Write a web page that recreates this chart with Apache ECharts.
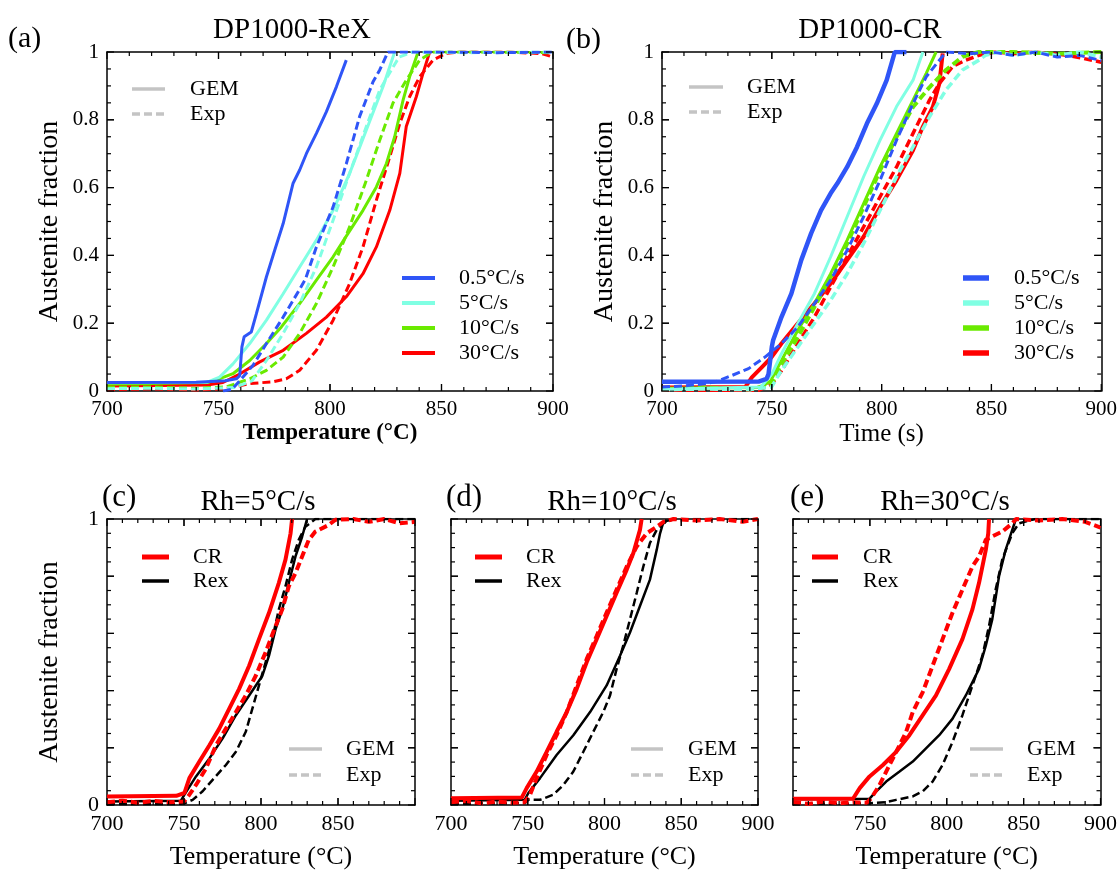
<!DOCTYPE html>
<html><head><meta charset="utf-8">
<script src="https://cdn.jsdelivr.net/npm/echarts/dist/echarts.min.js"></script>
<style>html,body{margin:0;padding:0;background:#fff}#c{width:1120px;height:871px}</style>
</head><body><div id="c"></div><script>
// ---------- ticks & tick labels ----------
const xTicks = [700, 750, 800, 850, 900];
const xTickMarks = [710, 720, 730, 740, 750, 760, 770, 780, 790, 800, 810, 820, 830, 840, 850, 860, 870, 880, 890];
const xLabelsFull = ['700', '750', '800', '850', '900'];
const xLabelsC = ['700', '750', '800', '850', ''];
const xLabelsE = ['', '750', '800', '850', '900'];
const yTicks = [0, 0.2, 0.4, 0.6, 0.8, 1];
const yTickMarks = [0.05, 0.1, 0.15, 0.2, 0.25, 0.3, 0.35, 0.4, 0.45, 0.5, 0.55, 0.6, 0.65, 0.7, 0.75, 0.8, 0.85, 0.9, 0.95];
const yLabelsTop = ['0', '0.2', '0.4', '0.6', '0.8', '1'];
const yLabelsC = ['0', '', '', '', '', '1'];
const yLabelsNone = ['', '', '', '', '', ''];

// ---------- panel (a) DP1000-ReX ----------
const aBlueGem = [[700,0.025],[740,0.026],[753,0.03],[758,0.036],[759.5,0.045],[760.5,0.13],[761.5,0.16],[764.7,0.174],[767,0.228],[771.5,0.337],[775.2,0.415],[779,0.494],[783.4,0.612],[786.4,0.652],[789.4,0.70],[793.9,0.76],[798.4,0.824],[802.9,0.898],[807.3,0.976]];
const aBlueExp = [[752,0.0],[756,0.005],[759.5,0.03],[765.5,0.076],[771.5,0.14],[779,0.218],[786.4,0.30],[789,0.33],[793.9,0.425],[801.4,0.543],[807.3,0.67],[813.3,0.81],[819.3,0.912],[822.3,0.947],[826,1],[850,1],[875,0.998],[900,1]];
const aCyanGem = [[700,0.024],[745,0.026],[750.5,0.041],[756.5,0.08],[764,0.14],[771.5,0.209],[779,0.287],[786.4,0.366],[793.9,0.445],[801.4,0.533],[808.8,0.642],[816.3,0.77],[823.8,0.898],[829,1]];
const aCyanExp = [[700,0.007],[720,0.008],[740,0.006],[757,0.01],[765,0.03],[771.5,0.09],[779,0.17],[786.4,0.258],[793.9,0.366],[801.4,0.504],[808.8,0.642],[816.3,0.78],[822.3,0.888],[828.3,0.956],[831,0.985],[837,1],[860,0.998],[900,1]];
const aGreenGem = [[700,0.02],[745,0.025],[750,0.035],[756.5,0.051],[764,0.09],[771.5,0.14],[778.2,0.189],[786.4,0.258],[793.9,0.327],[801.4,0.396],[808.1,0.465],[814.8,0.533],[820.8,0.602],[825.3,0.671],[829,0.75],[832.8,0.859],[835.7,0.927],[839.5,1]];
const aGreenExp = [[700,0.01],[720,0.012],[740,0.008],[753.5,0.012],[764,0.036],[771.5,0.061],[779,0.10],[786.4,0.17],[793.9,0.258],[801.4,0.366],[808.8,0.484],[816.3,0.622],[822.3,0.74],[828.3,0.85],[834.2,0.917],[840.2,0.976],[846,1],[870,1],[900,0.998]];
const aRedGem = [[700,0.015],[745,0.018],[752,0.025],[759.5,0.05],[768.5,0.086],[779,0.12],[789.4,0.17],[798.4,0.218],[807.3,0.278],[814.8,0.346],[820.8,0.425],[826.8,0.533],[831.3,0.642],[834.2,0.78],[838.7,0.868],[841.7,0.937],[844.7,1]];
const aRedExp = [[700,0.004],[720,0.006],[740,0.003],[753.5,0.007],[764,0.022],[774.5,0.027],[780.4,0.036],[786.4,0.061],[793.9,0.12],[801.4,0.209],[808.8,0.317],[814.8,0.425],[820.8,0.563],[826.8,0.691],[831.3,0.789],[835.7,0.868],[840.2,0.927],[846.2,0.976],[852,0.996],[858,1],[880,1],[895,0.995],[900,0.985]];

// ---------- panel (b) DP1000-CR ----------
const bBlueGem = [[700,0.027],[744,0.028],[747.6,0.036],[748.5,0.05],[750,0.13],[750.6,0.15],[754.4,0.218],[758.9,0.287],[763.4,0.386],[767.9,0.465],[772.4,0.533],[776.8,0.583],[779.8,0.612],[784.3,0.661],[788.8,0.72],[793.3,0.789],[797.8,0.848],[802.3,0.917],[806,1],[811.3,1]];
const bBlueExp = [[700,0.012],[710,0.015],[720,0.022],[724.4,0.027],[731.9,0.046],[739.4,0.066],[746.9,0.10],[754.4,0.14],[761.9,0.189],[769.4,0.258],[776.8,0.327],[784.3,0.415],[791.8,0.514],[799.3,0.622],[806.8,0.74],[814.3,0.848],[820.3,0.927],[826.3,0.976],[829.3,1],[840,0.995],[850,1],[860,0.99],[870,1],[880,0.985],[890,0.99],[900,0.975]];
const bCyanGem = [[700,0.005],[745,0.012],[750,0.05],[754.4,0.11],[761.9,0.2],[769.4,0.287],[776.8,0.396],[784.3,0.514],[791.8,0.632],[799.3,0.74],[806.8,0.839],[814.3,0.917],[818.8,1]];
const bCyanExp = [[700,0.004],[720,0.006],[740,0.004],[749.9,0.012],[754.4,0.061],[761.9,0.13],[769.4,0.2],[776.8,0.268],[784.3,0.346],[791.8,0.435],[799.3,0.533],[806.8,0.632],[814.3,0.72],[821.8,0.809],[829.3,0.888],[836.8,0.947],[844.3,0.976],[847.3,0.99],[853,1],[860,0.99],[870,1],[880,0.99],[890,1],[900,0.985]];
const bGreenGem = [[700,0.008],[745,0.01],[749.5,0.03],[754.4,0.09],[761.9,0.18],[769.4,0.258],[776.8,0.346],[784.3,0.445],[791.8,0.553],[799.3,0.661],[806.8,0.76],[814.3,0.858],[820.3,0.937],[824.8,1]];
const bGreenExp = [[700,0.006],[720,0.01],[740,0.005],[749.9,0.02],[754.4,0.08],[761.9,0.16],[769.4,0.248],[776.8,0.337],[784.3,0.435],[791.8,0.543],[799.3,0.651],[806.8,0.75],[814.3,0.838],[821.8,0.896],[829.3,0.947],[836.8,0.986],[844.3,1],[860,1],[880,0.995],[900,1]];
const bRedGem = [[700,0.01],[738,0.012],[740.9,0.04],[745.4,0.07],[749.9,0.10],[754.4,0.14],[761.9,0.2],[769.4,0.258],[776.8,0.317],[784.3,0.386],[791.8,0.455],[799.3,0.543],[806.8,0.622],[814.3,0.71],[818.8,0.78],[823.3,0.838],[826.3,0.907],[827.8,0.996]];
const bRedExp = [[700,0.003],[720,0.002],[744,0.002],[749.9,0.02],[754.4,0.06],[761.9,0.14],[769.4,0.218],[776.8,0.307],[784.3,0.396],[791.8,0.484],[799.3,0.573],[806.8,0.661],[814.3,0.76],[821.8,0.858],[826.3,0.907],[832.3,0.957],[838.3,0.976],[844.3,0.99],[851.7,1],[860,0.995],[870,1],[885,0.99],[900,0.97]];

// ---------- panel (c) Rh=5 ----------
const cRedGem = [[700,0.03],[745,0.032],[750.3,0.042],[753.5,0.094],[760,0.152],[766.5,0.209],[772.9,0.267],[779.4,0.337],[785.8,0.406],[792.3,0.487],[798.7,0.58],[805.2,0.672],[811.6,0.777],[815.9,0.858],[819.2,0.95],[820.2,1]];
const cRedExp = [[700,0.01],[710,0.015],[720,0.008],[730,0.014],[740,0.01],[750,0.012],[753.5,0.036],[757.8,0.07],[764.3,0.128],[770.8,0.209],[777.2,0.267],[783.7,0.325],[790.1,0.383],[796.6,0.452],[803,0.534],[809.5,0.626],[813.8,0.684],[818.1,0.765],[822.4,0.811],[826.7,0.869],[831,0.927],[835.3,0.956],[843.9,0.979],[848.2,0.997],[860,1],[870,0.99],[880,1],[890,0.985],[900,0.99]];
const cBlackGem = [[700,0.012],[748,0.015],[750.3,0.036],[757.8,0.1],[766.5,0.163],[775.1,0.233],[783.7,0.314],[792.3,0.383],[800.9,0.452],[805.2,0.522],[809.5,0.615],[813.8,0.684],[818.1,0.777],[822.4,0.869],[826.7,0.938],[829.9,1]];
const cBlackExp = [[700,0.003],[748,0.004],[750.3,0.006],[755.6,0.018],[762.1,0.048],[768.6,0.088],[777.2,0.14],[783.7,0.186],[790.1,0.256],[794.4,0.337],[798.7,0.418],[803,0.499],[807.3,0.58],[811.6,0.684],[815.9,0.765],[820.2,0.858],[824.5,0.927],[828.8,0.973],[835.3,1],[900,1]];

// ---------- panel (d) Rh=10 ----------
const dRedGem = [[700,0.024],[746.1,0.026],[749.3,0.059],[755.8,0.117],[762.3,0.186],[768.8,0.256],[775.4,0.325],[781.9,0.406],[788.4,0.499],[794.9,0.58],[801.4,0.661],[807.9,0.742],[814.5,0.823],[818.8,0.881],[823.1,0.962],[824.2,1]];
const dRedExp = [[700,0.01],[710,0.014],[720,0.006],[730,0.012],[740,0.008],[748,0.01],[751.5,0.036],[755.8,0.094],[762.3,0.175],[768.8,0.244],[775.4,0.325],[781.9,0.418],[788.4,0.51],[794.9,0.591],[801.4,0.673],[807.9,0.753],[814.5,0.834],[821,0.904],[827.5,0.95],[834,0.973],[838.4,0.99],[844.9,1],[860,0.995],[875,1],[890,0.99],[900,1]];
const dBlackGem = [[700,0.015],[748,0.018],[750.4,0.042],[758,0.094],[768.8,0.175],[779.7,0.244],[790.6,0.325],[801.4,0.418],[810.1,0.522],[816.6,0.603],[823.1,0.696],[829.6,0.788],[834,0.892],[836.2,0.95],[838.4,0.99],[845,1]];
const dBlackExp = [[700,0.004],[748,0.006],[750.4,0.018],[758,0.018],[766.6,0.036],[773.2,0.07],[779.7,0.117],[786.2,0.186],[792.7,0.256],[799.2,0.325],[803.6,0.383],[807.9,0.476],[812.2,0.557],[816.6,0.649],[821,0.742],[825.3,0.834],[829.6,0.916],[834,0.962],[838.4,0.985],[844.9,1],[900,1]];

// ---------- panel (e) Rh=30 ----------
const eRedGem = [[700,0.022],[739,0.022],[743.4,0.059],[749.8,0.1],[758.5,0.14],[767.1,0.186],[775.7,0.244],[784.4,0.314],[793,0.383],[801.6,0.476],[810.2,0.58],[816.7,0.684],[821,0.777],[825.4,0.892],[827,0.95],[827.5,1]];
const eRedExp = [[700,0.01],[710,0.004],[720,0.012],[730,0.006],[740,0.01],[748,0.008],[750.9,0.024],[756.3,0.07],[762.8,0.14],[769.3,0.209],[773.6,0.256],[777.9,0.325],[784.4,0.395],[790.8,0.487],[797.3,0.58],[803.8,0.673],[810.2,0.753],[816.7,0.834],[821,0.869],[825.4,0.927],[829.6,0.939],[836.1,0.956],[842.6,0.985],[845,1],[860,0.995],[875,1],[890,0.99],[900,0.97]];
const eBlackGem = [[700,0.02],[749.8,0.022],[754.2,0.048],[760.6,0.082],[769.3,0.117],[777.9,0.152],[786.5,0.198],[795.1,0.244],[803.8,0.302],[812.4,0.383],[821,0.476],[825.4,0.557],[829.6,0.649],[834,0.8],[838.3,0.892],[842.6,0.962],[845,1]];
const eBlackExp = [[700,0.004],[748,0.005],[752,0.007],[760.6,0.01],[767.1,0.018],[777.9,0.03],[784.4,0.048],[790.8,0.082],[797.3,0.14],[803.8,0.221],[810.2,0.314],[816.7,0.418],[823.2,0.522],[827.5,0.626],[831.8,0.753],[836.1,0.858],[842.6,0.95],[846.9,0.985],[857.7,1],[900,1]];

// ---------- styling ----------
const FONT = 'Liberation Serif';
const BLUE = '#2f55f7', CYAN = '#80ffe3', GREEN = '#6aea00', RED = '#ff0000', BLACK = '#000000', GRAY = '#c4c4c4';
const DASH = [8, 4];

const grids = [
  {left: 107, top: 52, width: 446, height: 339},
  {left: 662, top: 52, width: 445, height: 339},
  {left: 107, top: 519, width: 308, height: 288},
  {left: 451, top: 519, width: 307, height: 288},
  {left: 793, top: 519, width: 309, height: 288}
];

function pick(labels, ticks, v) {
  let best = 0, bd = Infinity;
  ticks.forEach((t, i) => { const d = Math.abs(t - v); if (d < bd) { bd = d; best = i; } });
  return bd < 1e-6 ? labels[best] : '';
}
function isMajor(ticks, v) { return ticks.some(t => Math.abs(t - v) < 1e-6); }

function axLine() { return {show: true, onZero: false, lineStyle: {color: '#000', width: 1.5}}; }

const xAxes = [], yAxes = [];
function addAxes(g, xl, yl, xName, xNameStyle, xNameGap, yName, labelSize) {
  const xb = {gridIndex: g, type: 'value', position: 'bottom', axisLine: axLine(), axisTick: {show: false}, splitLine: {show: false},
    min: 700, max: 900, interval: 50,
    axisLabel: {color: '#000', fontFamily: FONT, fontSize: labelSize, formatter: v => pick(xl, xTicks, v)},
    name: xName, nameLocation: 'middle', nameGap: xNameGap,
    nameTextStyle: Object.assign({color: '#000', fontFamily: FONT}, xNameStyle)};
  const yl0 = {gridIndex: g, type: 'value', position: 'left', axisLine: axLine(), axisTick: {show: false}, splitLine: {show: false},
    min: 0, max: 1, interval: 0.2,
    axisLabel: {color: '#000', fontFamily: FONT, fontSize: labelSize, formatter: v => pick(yl, yTicks, v)}};
  if (yName) Object.assign(yl0, {name: yName, nameLocation: 'middle', nameGap: 43, nameTextStyle: {color: '#000', fontFamily: FONT, fontSize: 28}});
  xAxes.push(xb); yAxes.push(yl0);
  xAxes.push({gridIndex: g, type: 'value', position: 'top', axisLine: axLine(), axisTick: {show: false}, splitLine: {show: false},
    min: 700, max: 900, interval: 50, axisLabel: {show: false}});
  yAxes.push({gridIndex: g, type: 'value', position: 'right', axisLine: axLine(), axisTick: {show: false}, splitLine: {show: false},
    min: 0, max: 1, interval: 0.2, axisLabel: {show: false}});
}
addAxes(0, xLabelsFull, yLabelsTop, 'Temperature (°C)', {fontSize: 23, fontWeight: 'bold'}, 31, 'Austenite fraction', 21);
addAxes(1, xLabelsFull, yLabelsTop, 'Time (s)', {fontSize: 25}, 31, 'Austenite fraction', 21);
addAxes(2, xLabelsC, yLabelsC, 'Temperature (°C)', {fontSize: 26}, 39, 'Austenite fraction', 22);
addAxes(3, xLabelsFull, yLabelsNone, 'Temperature (°C)', {fontSize: 26}, 39, '', 22);
addAxes(4, xLabelsE, yLabelsNone, 'Temperature (°C)', {fontSize: 26}, 39, '', 22);

const series = [];
function ln(g, data, color, width, dashed) {
  series.push({type: 'line', xAxisIndex: g * 2, yAxisIndex: g * 2, data: data, symbol: 'none', showSymbol: false,
    animation: false,
    lineStyle: {color: color, width: width, type: dashed ? DASH : 'solid'}});
}
// inward tick marks on all four sides, placed through the axis scale
function tickSeries(g) {
  series.push({type: 'custom', xAxisIndex: g * 2, yAxisIndex: g * 2, silent: true, z: 20, clip: false, animation: false,
    data: [[700, 0]],
    renderItem: function (params, api) {
      const bl = api.coord([700, 0]), tr = api.coord([900, 1]);
      const L = bl[0], B = bl[1], R = tr[0], T = tr[1];
      const ch = [];
      const st = () => ({stroke: '#000', lineWidth: 1.2});
      xTicks.concat(xTickMarks).forEach(v => {
        const len = isMajor(xTicks, v) ? 7 : 4;
        const x = api.coord([v, 0])[0];
        ch.push({type: 'line', shape: {x1: x, y1: B, x2: x, y2: B - len}, style: st()});
        ch.push({type: 'line', shape: {x1: x, y1: T, x2: x, y2: T + len}, style: st()});
      });
      yTicks.concat(yTickMarks).forEach(v => {
        const len = isMajor(yTicks, v) ? 7 : 4;
        const y = api.coord([700, v])[1];
        ch.push({type: 'line', shape: {x1: L, y1: y, x2: L + len, y2: y}, style: st()});
        ch.push({type: 'line', shape: {x1: R, y1: y, x2: R - len, y2: y}, style: st()});
      });
      return {type: 'group', children: ch};
    }});
}
// (a)
ln(0, aRedExp, RED, 3, true); ln(0, aRedGem, RED, 3, false);
ln(0, aGreenExp, GREEN, 3, true); ln(0, aGreenGem, GREEN, 3, false);
ln(0, aCyanExp, CYAN, 3, true); ln(0, aCyanGem, CYAN, 3, false);
ln(0, aBlueExp, BLUE, 3, true); ln(0, aBlueGem, BLUE, 3, false);
// (b)
ln(1, bRedExp, RED, 3.5, true); ln(1, bRedGem, RED, 4, false);
ln(1, bGreenExp, GREEN, 4, true); ln(1, bGreenGem, GREEN, 3, false);
ln(1, bCyanExp, CYAN, 3.5, true); ln(1, bCyanGem, CYAN, 3, false);
ln(1, bBlueExp, BLUE, 3, true); ln(1, bBlueGem, BLUE, 4.5, false);
// (c)
ln(2, cBlackExp, BLACK, 2.5, true); ln(2, cBlackGem, BLACK, 2.5, false);
ln(2, cRedExp, RED, 4, true); ln(2, cRedGem, RED, 4, false);
// (d)
ln(3, dBlackExp, BLACK, 2.5, true); ln(3, dBlackGem, BLACK, 2.5, false);
ln(3, dRedExp, RED, 4, true); ln(3, dRedGem, RED, 4, false);
// (e)
ln(4, eBlackExp, BLACK, 2.5, true); ln(4, eBlackGem, BLACK, 2.5, false);
ln(4, eRedExp, RED, 4, true); ln(4, eRedGem, RED, 4, false);
for (let g = 0; g < 5; g++) tickSeries(g);

// ---------- legends & titles ----------
const graphic = [];
function legLine(x1, x2, y, color, w, dashed) {
  const el = {type: 'line', silent: true, z: 100, shape: {x1: x1, y1: y, x2: x2, y2: y},
    style: {stroke: color, lineWidth: w}};
  if (dashed) el.style.lineDash = [8, 4];
  graphic.push(el);
}
function txt(x, y, s, size, align) {
  graphic.push({type: 'text', silent: true, z: 100, x: x, y: y,
    style: {text: s, fill: '#000', fontFamily: FONT, fontSize: size, align: align || 'left', verticalAlign: 'middle'}});
}
// (a)
legLine(132, 165, 89, GRAY, 3.5, false); txt(190, 89, 'GEM', 22);
legLine(132, 165, 114, GRAY, 3.5, true); txt(190, 114, 'Exp', 22);
[[BLUE, '0.5°C/s'], [CYAN, '5°C/s'], [GREEN, '10°C/s'], [RED, '30°C/s']].forEach((d, i) => {
  legLine(402, 435, 278 + i * 25, d[0], 4, false); txt(459, 278 + i * 25, d[1], 22);
});
// (b)
legLine(689, 723, 87, GRAY, 3.5, false); txt(747, 87, 'GEM', 22);
legLine(689, 723, 112, GRAY, 3.5, true); txt(747, 112, 'Exp', 22);
[[BLUE, '0.5°C/s'], [CYAN, '5°C/s'], [GREEN, '10°C/s'], [RED, '30°C/s']].forEach((d, i) => {
  legLine(963, 989, 278 + i * 25, d[0], 5.5, false); txt(1014, 278 + i * 25, d[1], 22);
});
// (c),(d),(e)
[[142, 169, 193, 289, 322, 346], [475, 502, 526, 631, 663, 688], [812, 838, 863, 970, 1003, 1027]].forEach(p => {
  legLine(p[0], p[1], 557, RED, 5, false); txt(p[2], 557, 'CR', 22);
  legLine(p[0], p[1], 581, BLACK, 3.5, false); txt(p[2], 581, 'Rex', 22);
  legLine(p[3], p[4], 749, GRAY, 3.5, false); txt(p[5], 749, 'GEM', 22);
  legLine(p[3], p[4], 775, GRAY, 3.5, true); txt(p[5], 775, 'Exp', 22);
});
// titles
txt(8, 39, '(a)', 30); txt(292, 30, 'DP1000-ReX', 29, 'center');
txt(566, 40, '(b)', 30); txt(870, 30, 'DP1000-CR', 29, 'center');
txt(102, 498, '(c)', 31); txt(258, 502, 'Rh=5°C/s', 29, 'center');
txt(446, 498, '(d)', 31); txt(612, 502, 'Rh=10°C/s', 29, 'center');
txt(790, 498, '(e)', 31); txt(945, 502, 'Rh=30°C/s', 29, 'center');

const chart = echarts.init(document.getElementById('c'), null, {renderer: 'canvas'});
chart.setOption({
  backgroundColor: '#fff',
  animation: false,
  grid: grids.map(g => Object.assign({containLabel: false, show: false}, g)),
  xAxis: xAxes, yAxis: yAxes, series: series, graphic: graphic
});
</script></body></html>
